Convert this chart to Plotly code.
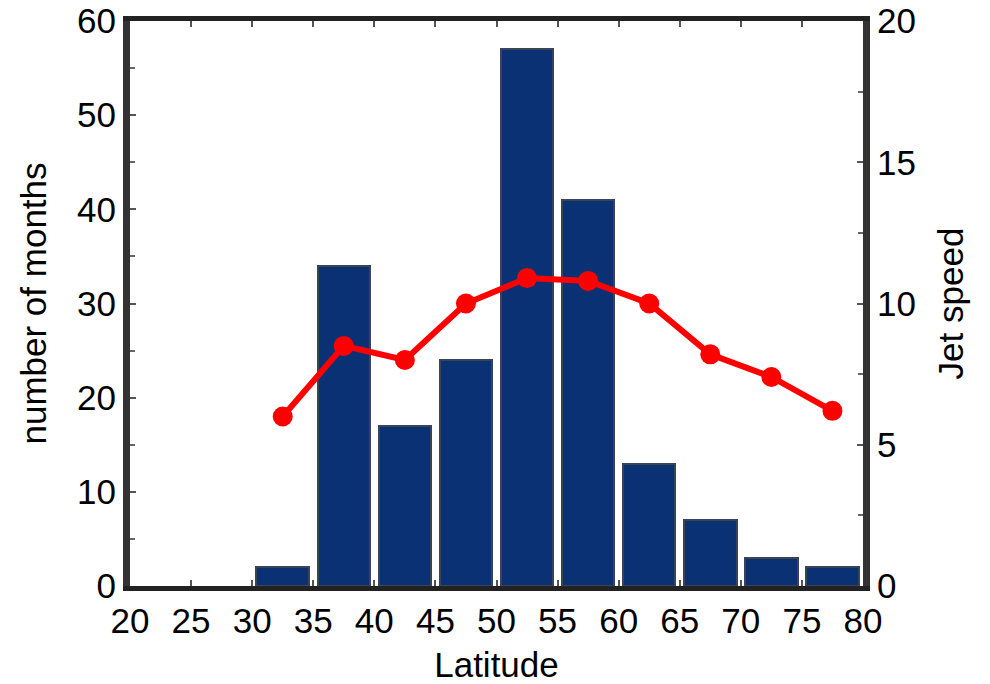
import plotly.graph_objects as go

lat_centers = [32.5, 37.5, 42.5, 47.5, 52.5, 57.5, 62.5, 67.5, 72.5, 77.5]
months_count = [2, 34, 17, 24, 57, 41, 13, 7, 3, 2]
jet_speed = [6.0, 8.5, 8.0, 10.0, 10.9, 10.8, 10.0, 8.2, 7.4, 6.2]

x_ticks = [20, 25, 30, 35, 40, 45, 50, 55, 60, 65, 70, 75, 80]
left_ticks = [0, 10, 20, 30, 40, 50, 60]
right_ticks = [0, 5, 10, 15, 20]

FONT = "Liberation Sans, Arial, sans-serif"
FS = 35

fig = go.Figure()
fig.add_trace(go.Bar(
    x=lat_centers, y=months_count, width=4.3,
    marker=dict(color="#0b3175", line=dict(color="#3b4456", width=2)),
    yaxis="y", showlegend=False,
))
fig.add_trace(go.Scatter(
    x=lat_centers, y=jet_speed, mode="lines+markers",
    line=dict(color="#ff0000", width=6),
    marker=dict(color="#ff0000", size=20),
    yaxis="y2", showlegend=False,
))

fig.update_layout(
    width=990, height=684,
    margin=dict(l=130, r=127, t=21, b=98),
    paper_bgcolor="white", plot_bgcolor="white",
    font=dict(family=FONT, size=FS, color="black"),
    bargap=0,
    xaxis=dict(
        range=[20, 80], tickvals=x_ticks, ticks="inside", ticklen=6, tickwidth=2,
        tickcolor="#555", showgrid=False, zeroline=False, automargin=False,
        showline=True, linewidth=5, linecolor="#222", mirror="ticks",
        title=dict(text="Latitude", font=dict(size=FS), standoff=15),
        tickfont=dict(size=FS),
    ),
    yaxis=dict(
        range=[0, 60], tickvals=left_ticks, ticks="inside", ticklen=6, tickwidth=2,
        tickcolor="#555", showgrid=False, zeroline=False, automargin=False,
        showline=True, linewidth=7, linecolor="#333",
        minor=dict(dtick=5, tick0=0, ticks="inside", ticklen=5, tickcolor="#666"),
        title=dict(text="number of months", font=dict(size=FS), standoff=22),
        tickfont=dict(size=FS),
    ),
    yaxis2=dict(
        range=[0, 20], tickvals=right_ticks, ticks="inside", ticklen=6, tickwidth=2,
        tickcolor="#555", showgrid=False, zeroline=False, automargin=False,
        overlaying="y", side="right",
        showline=True, linewidth=7, linecolor="#333",
        minor=dict(dtick=2.5, tick0=0, ticks="inside", ticklen=5, tickcolor="#666"),
        title=dict(text="Jet speed", font=dict(size=FS), standoff=26),
        tickfont=dict(size=FS),
    ),
)

fig.write_html("out.html")
